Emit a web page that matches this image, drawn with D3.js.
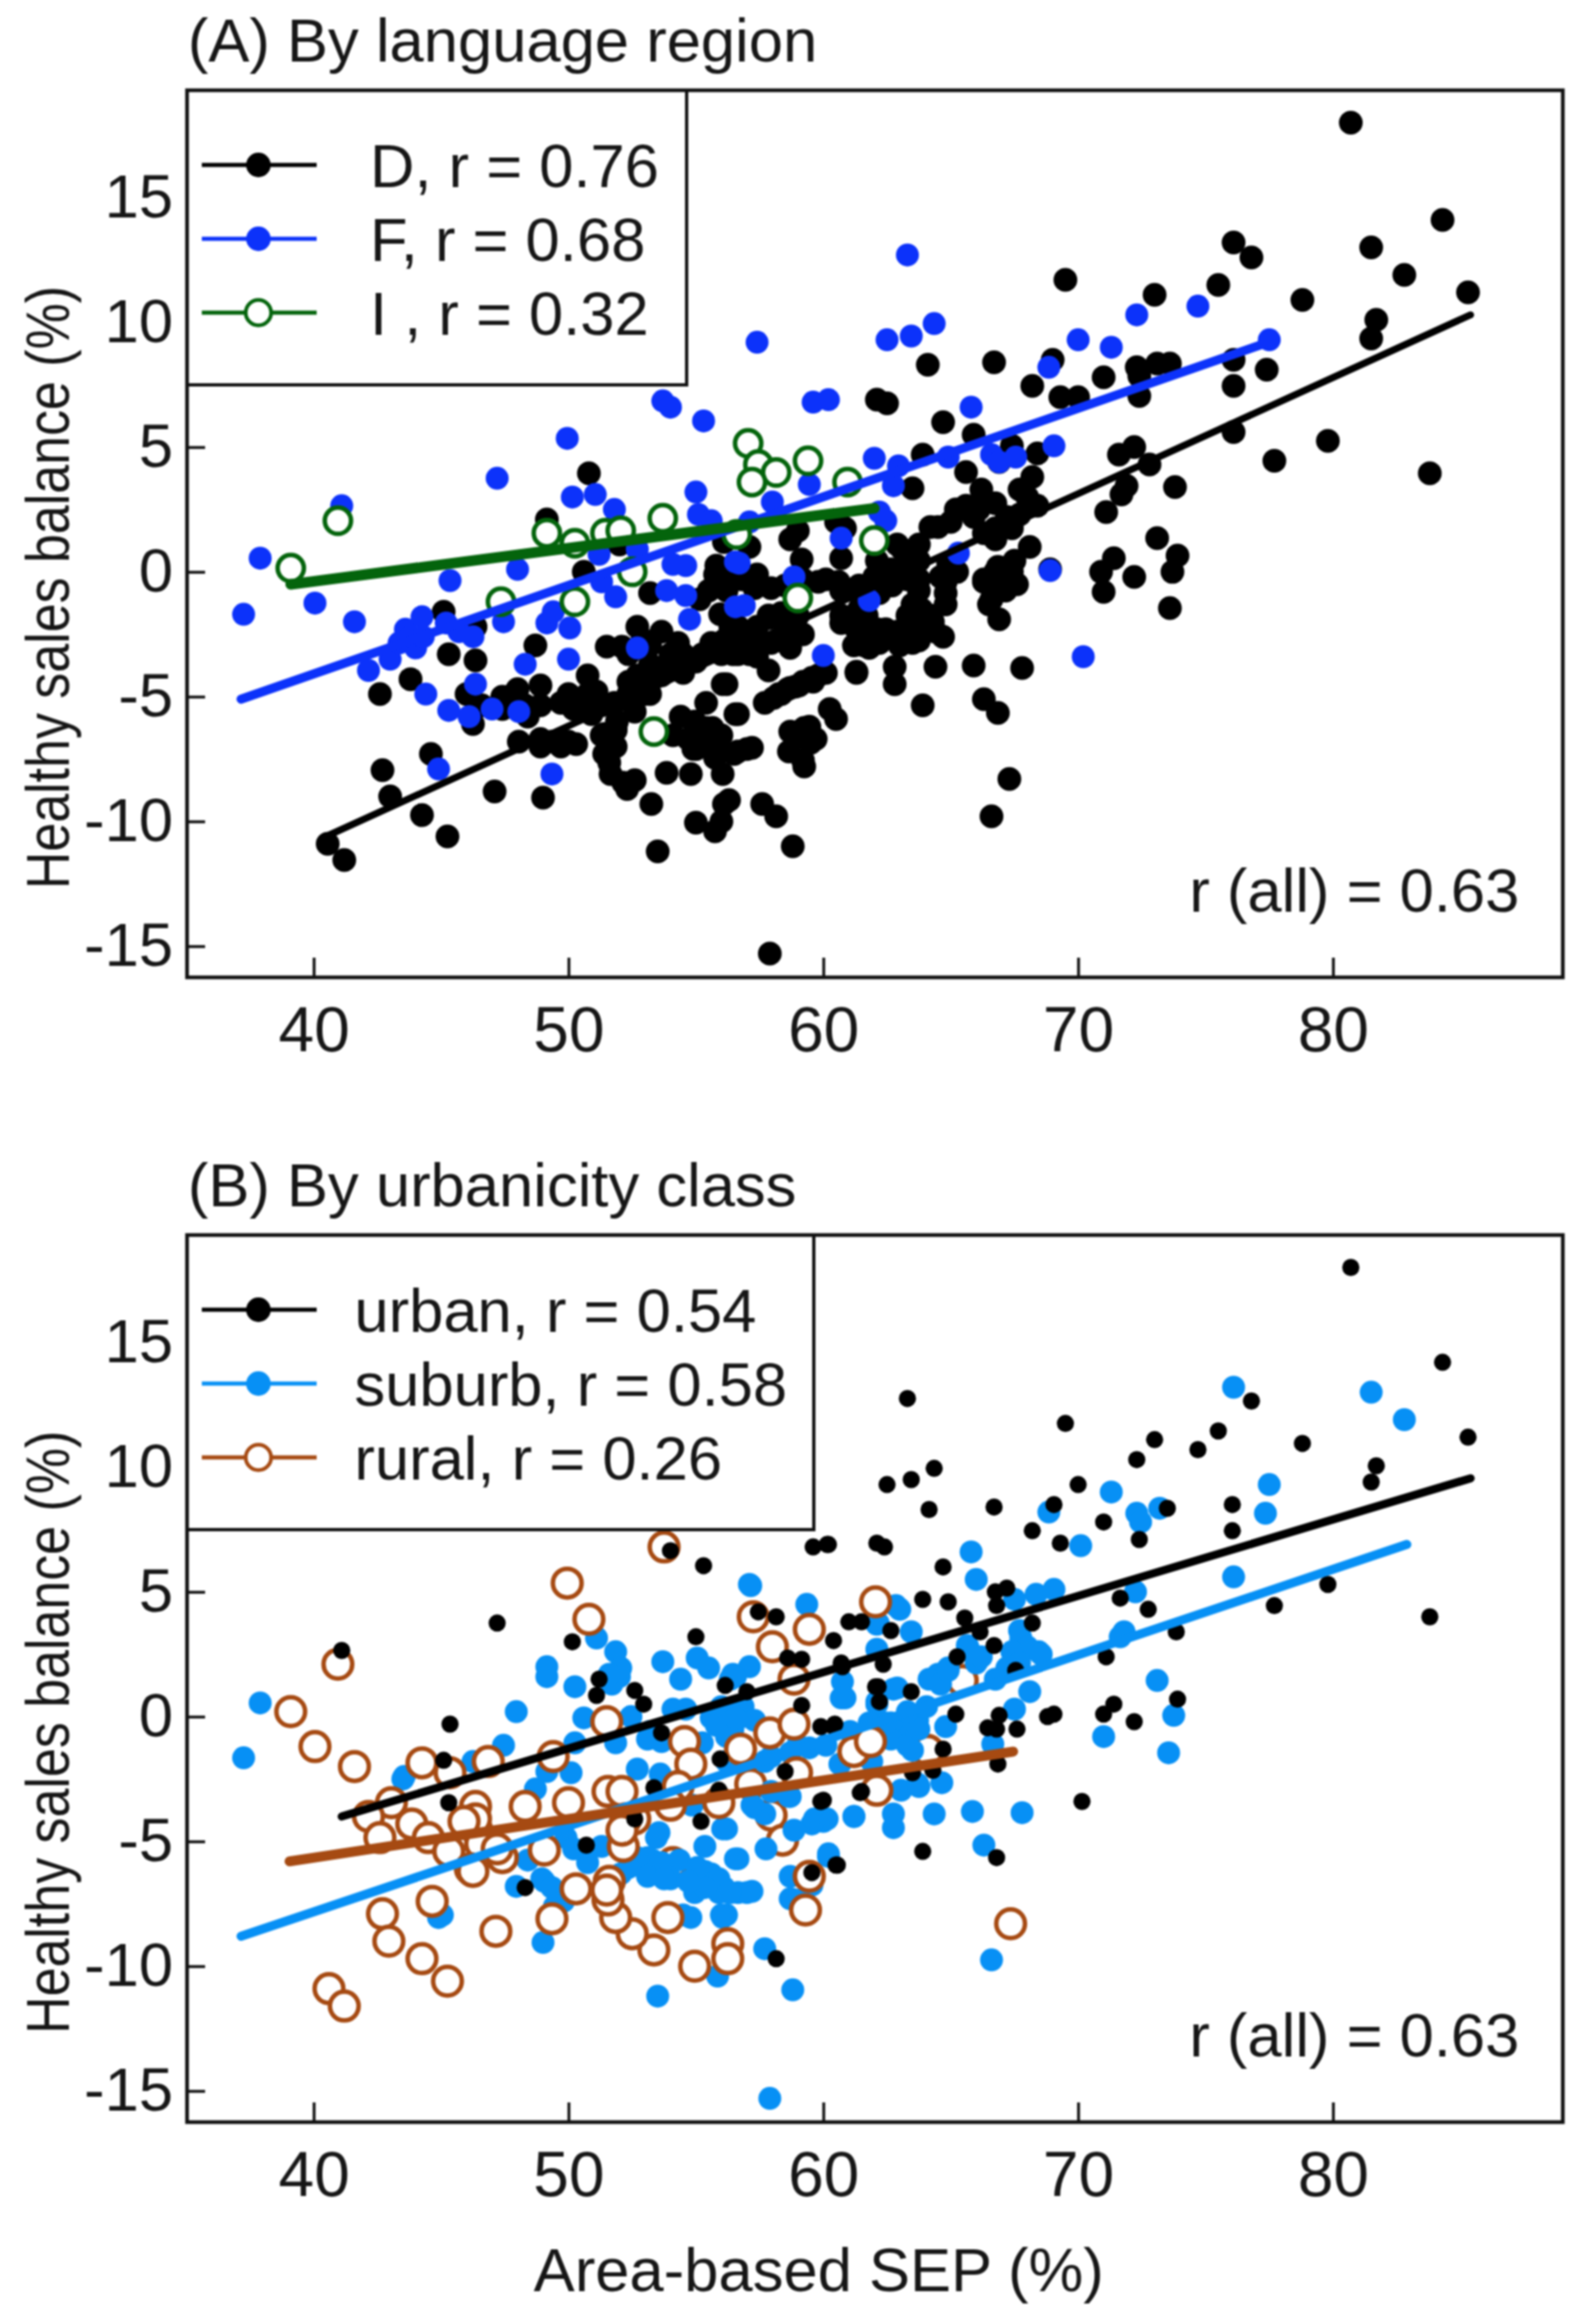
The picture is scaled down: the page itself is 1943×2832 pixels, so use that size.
<!DOCTYPE html>
<html><head><meta charset="utf-8">
<script src="https://cdn.jsdelivr.net/npm/d3@7"></script>
<style>html,body{margin:0;padding:0;background:#fff}svg{display:block;filter:blur(0.9px)}text{font-family:"Liberation Sans",Arial,sans-serif;fill:#161616}</style>
</head><body><div id="chart"></div>
<script>
const xTicks=[40,50,60,70,80];
const yTicks=[-15,-10,-5,0,5,10,15];
const langD=[[80.7,18],[84.3,14.1],[76.1,13.2],[76.8,12.6],[81.5,13],[82.8,11.9],[85.3,11.2],[78.8,10.9],[69.5,11.7],[73,11.1],[75.5,11.5],[81.7,10.1],[81.5,9.35],[64.1,8.3],[66.7,8.4],[69,8.5],[68.2,7.45],[69.3,7],[70,7],[71,7.8],[72.3,8.2],[72.4,7.85],[72.4,7.05],[73.1,8.35],[73.6,8.35],[76.1,8.5],[76.1,7.45],[77.4,8.1],[76.1,5.6],[77.7,4.45],[79.8,5.25],[83.8,3.95],[62.1,6.9],[62.5,6.75],[64.7,6],[65.9,5.5],[63.9,4.7],[71.6,4.7],[72.2,5],[72.8,4.3],[68.4,4.75],[66.9,4.4],[73.8,3.4],[71.9,3.45],[71.7,3.1],[71.1,2.4],[73.1,1.35],[73.9,.65],[73.7,0],[71.4,.55],[70.9,0],[72.2,-.2],[71,-.8],[73.6,-1.45],
[67.4,5.05],[63.5,3.35],[65.6,4],[66.2,3.3],[68.2,3.8],[67.7,3.3],[65.2,2.5],[65.9,2.2],[64.5,1.8],[65,2],[65.6,2.65],[66.75,2.75],[68.4,2.65],[67.7,2.3],[67.4,1.75],[66.75,1.3],[66.3,1.55],[68.1,1],[67.5,.45],[66.75,0],[66.3,-.4],[67.6,-.5],[67,-.5],[66.6,-1.1],[66.9,-1.9],[65.25,0],[64.8,-.4],[64.8,-1.3],[64.7,-2.6],[64.3,-2],[63.85,-1.5],[63.75,-.75],[63.5,0],[63.75,1.1],[62.9,1.1],[63.3,.45],[68.9,.1],
[66.1,2.5],[67.2,2.2],[68,3],[64.2,1.8],[66.75,1.75],[63.75,.45],[63.75,-.3],[63.1,.9],[62.65,.1],[62,-.2],[61.4,-.55],[60.7,-.75],[60.1,-.3],[59.2,-.3],[58.5,-.55],[57.3,-.65],[56.8,-.3],[63.5,-1.3],[63.3,-2.2],[64.2,-1.75],[64.4,-2.4],[63.5,-2.85],[62.45,-2.3],[61.7,-1.75],[61.3,-2.3],[61.2,-2.95],[61.8,-3.05],[60.7,-1.75],[57.85,-1.75],[57.4,-2.2],[58.35,-1.65],[59,-1.75],[59.2,-2.5],[58.6,-2.6],[57.95,-2.85],[57.4,-3.4],[56.45,-2.75],[56.65,-3.3],[56.25,-1.75],[56.65,-2.2],[66.3,-.3],[66.85,.2],[67.4,0],[67.15,-.75],[66.65,-.55],[66.5,-1.3],[64.9,.35],[64.8,-.85],[64.6,-.2],[59.2,-4.4],[58.6,-4.7],[58.05,-5.05],[59.8,-4.15],
[58.7,1.3],[59,1.65],[59.15,.5],[60.85,1.75],[60.7,.55],[62.1,.45],[60.5,2],[57.1,1],[57.4,-.1],[56.55,-.3],[57.95,-.65],[59.8,-.4],[60.6,-.4],[56.2,-.75],[61.4,-.85],[62.7,-.55],[63.3,-.3],[62.2,-.85],[60.7,-2.05],[61.4,-1.5],[62.1,-2.3],[61.6,-2.95],[62.2,-2.85],[63,-2.95],[63.75,-2.75],[63.3,-1.75],[63.75,-2.2],[62.9,-2.4],[57.85,-1.85],[58.5,-2.2],[59,-2.4],[58.7,-3.05],[58.2,-2.75],[57.4,-2.75],[56.9,-2.4],[56.35,-2.2],[56,-3.3],[57.1,-3.3],[57.85,-3.95],[56.2,-4.5],[61.3,-4],[62.8,-3.8],[62.8,-4.5],[64.4,-3.8],[65.9,-3.75],[67.8,-3.85],[63.9,-5.35],[66.3,-5.1],[66.85,-5.65],[60.1,-4.05],[59.55,-4.25],[58.9,-4.6],[58.25,-4.9],[57.7,-5.25],[56.65,-5.7],[60.25,-5.5],[60.5,-5.9],[59.45,-6.2],[59.7,-6.7],[58.7,-6.4],[58.65,-7.2],[57.2,-7.05],[56.65,-7.2],[59.2,-7.55],[67.3,-8.3],[66.6,-9.8],
[50.8,3.95],[49.15,2.1],[50.6,0],[52,1.1],[45.1,-1.6],[46.35,-2.2],[45.3,-3.3],[46.35,-3.55],[48.7,-2.95],[43.8,-4.3],[42.6,-4.9],[46,-4.9],[46.6,-5.35],[47.4,-5.5],[48,-4.7],[48.9,-4.55],[48.9,-5.35],[48.4,-5.8],[46.25,-6.1],[44.6,-7.3],[50.75,-4.15],[50,-4.9],[51.1,-4.8],[50.9,-5.7],[53.2,-.85],[52.7,-2.2],[53.65,-2.4],[51.5,-3],[52.1,-3],[54.3,-2.85],[53.2,-2.95],[53.2,-3.7],[52.35,-4.4],[53,-4.4],[53.65,-4.15],[54.5,-4.05],[55,-3.6],[55.6,-2.85],[56.1,-2.75],[56.05,-4.5],[55.4,-5.25],[56.55,-5.7],[54.4,-5.8],[55.4,-6.25],[54.1,-6.55],[54.9,-7.1],[55.9,-7.1],[51.85,-6.35],[51.5,-7.2],[51.9,-6],[55.75,-.1],[55.5,-.75],[56.2,-.55],[55.15,-1.1],[55.95,-1.7],[56.1,1.2],[48.05,-6.8],[48.9,-6.7],[49.7,-7],[50.3,-6.9],
[52.35,-3.3],[52.9,-2.7],[54,-3.3],[54.5,-3.3],[54,-3.85],[52.7,-4.15],[53.2,-4.9],[52.35,-4.9],[51.8,-5.25],[51.3,-5.35],[50.75,-4.9],[50.2,-5.5],[49.7,-5.25],[55.25,-3.3],[55.8,-3.05],[56.45,-3.3],[54.95,-6],[55.6,-6.55],[51.85,-7],[51.3,-6.55],[54.7,-6.7],[55.4,-6.9],[56,-6.55],[56.45,-2.75],[55.8,.25],[56.1,-.1],[56.55,-.3],[48.3,-5.35],[47.85,-4.9],[47.4,-5],[49.35,-6.8],[48.9,-7],[50,-6.8],
[42.7,-7.95],[43,-9],[44.25,-9.75],[45.25,-10.6],[47.1,-8.8],[49,-9.05],[40.55,-10.9],[41.2,-11.55],[53.5,-11.2],[57.9,-15.3],[55,-10.05],[55.75,-10.4],[56.3,-9.15],[57.6,-9.3],[58.15,-9.8],[58.8,-11],[53.25,-9.3],[52.3,-8.7],[51.65,-8.1],[51.4,-7.3],[53.85,-8.05],[54.8,-8.1],[56.05,-8.1],[55,-7.1],[57,-7.1],[56.5,-7.3],[55.35,-6.5],[58.7,-4.65],[59.6,-4.4],[61.3,-4.05],[59.25,-7.8],[59.5,-6.85],
[52.6,-8.35],[52.15,-8.45],[56.1,-9.3],[56,-10],[51.6,-7.65],[51.4,-6.5],[51.85,-6.3],[52.6,-5.6],[53,-4.9],[55.1,-6.5],[55.65,-6.25],[55.75,-7.45],[59.05,-6.6],[59.25,-6.25],[59.05,-4.55],[58.35,-4.9]];
const langF=[[63.3,12.7],[62.5,9.3],[63.45,9.45],[64.35,9.95],[70,9.3],[71.3,9],[72.3,10.3],[74.7,10.65],[77.5,9.3],[68.85,8.2],[65.8,6.6],[69.05,5.05],[59.6,6.8],[60.2,6.9],[62,4.55],[62.95,4.25],[64.9,4.6],[66.6,4.7],[66.9,4.4],[67.55,4.6],[68.9,.05],[70.2,-3.4],[62.75,3.45],[62.2,2.4],[62.45,2.05],[60.7,1.35],[61.8,-1.15],[65.3,.75],[60,-3.35],[59.45,3.5],[58,2.8],[57.1,2],[56.7,.35],[58.85,-.2],[56.9,-1.35],
[57.4,9.2],[53.7,6.85],[54,6.6],[55.3,6.05],[49.95,5.35],[47.2,3.75],[50.15,3],[51.05,3.1],[51.8,2.5],[41.1,2.65],[37.9,.55],[37.25,-1.7],[40.05,-1.25],[41.6,-2],[45.35,-.35],[48,.1],[55,3.2],[55.1,2.3],[55.6,2.05],[51.2,.7],[52.7,.9],[51.85,-1],[51.3,-.4],[54.1,.3],[54.6,.25],[53.85,-.75],[54.6,-.95],[54.75,-1.9],[52.7,-3.05],[50,-3.5],[48.3,-3.7],[49.15,-2.05],[49.4,-1.6],[50.05,-2.25],[42.15,-3.95],[43,-3.5],[43.6,-2.3],[44.25,-1.8],[43.35,-2.85],[44,-3.05],[43.8,-2.6],[44.3,-2.6],[45.2,-2.05],[45.7,-2.4],[46.25,-2.6],[47.45,-2],[46.35,-4.5],[44.4,-4.9],[45.3,-5.55],[46.1,-5.8],[47,-5.5],[48.05,-5.6],[56.55,.4],[56.55,-1.4],[49.35,-8.1],[44.9,-7.9]];
const langI=[[39.1,.15],[40.95,2.05],[47.35,-1.2],[49.15,1.55],[50.25,1.15],[50.25,-1.2],[51.45,1.55],[52.05,1.65],[52.5,0],[53.7,2.15],[56.6,1.5],[53.35,-6.4],[57.05,5.15],[57.45,4.3],[58.15,3.98],[57.2,3.6],[59.4,4.45],[60.95,3.6],[62,1.25],[59,-1.05]];
const urbUrban=[[80.7,18],[84.3,14.2],[76.8,12.65],[85.3,11.2],[78.8,10.95],[69.5,11.75],[73,11.1],[75.5,11.45],[74.7,10.7],[72.3,10.3],[70,9.3],[81.7,10.05],[81.5,9.4],[63.3,12.75],[62.5,9.3],[63.45,9.5],[64.35,9.95],[64.15,8.3],[66.7,8.4],[69.05,8.5],[68.2,7.45],[69.3,6.95],[71,7.8],[73.5,8.35],[72.4,7.1],[76.05,8.5],[76.05,7.45],[77.7,4.45],[79.8,5.3],[83.8,4],[62.1,6.95],[62.4,6.8],[60.15,6.9],[64.7,6],[63.9,4.7],[64.9,4.6],[66.75,5],[67.2,5.15],[66.8,4.45],[65.55,3.95],[66.15,3.4],[68.2,3.75],[62.65,3.45],[61,3.8],[61.5,3.8],[60.4,3.05],[60.7,2.15],[62.35,2.1],[66.7,2.85],[65.25,2.4],[71.65,4.75],[72.75,4.3],[73.85,3.4],[71.1,2.4],[73.9,.7],[71.4,.5],[71,.1],[72.2,-.2],[68.8,0],[69.05,.1],[70.15,-3.4],[63.9,-5.4],[66.8,-5.65],[60.5,-5.95],[65.2,.1],[66.45,-.45],[66.9,.05],[66.8,-.5],[67.6,-.5],[66.85,-1.9],[64.7,-1.3],[64.3,-2.15],[63.45,1],[62.15,1.2],[60.4,-.4],[60,-3.35],[61.45,-3.05],[63.5,-2.25],[67.55,1.85],
[41.1,2.65],[47.2,3.75],[50.15,3],[55,3.2],[54,6.65],[55.3,6.05],[59.6,6.8],[60.2,6.9],[57.45,4.2],[58.15,4],[58.6,2.35],[59.15,2.3],[60.75,2],[51.2,1.5],[51.1,.85],[52.6,1.05],[52.95,.5],[56.15,1.25],[57,1],[62.05,1.2],[62.2,.6],[59.15,.45],[59.9,-.4],[60.45,-.3],[45.35,-.3],[53.65,-.65],[45.1,-1.75],[55.95,-1.7],[45.3,-3.45],[53.35,-2.85],[58.5,-2.2],[55.9,-2.95],[59.9,-3.4],[61.5,-3],[52.6,-4.1],[55.2,-4.2],[50.7,-5.15],[59.55,-6.25],[60.55,-5.95],[48.3,-6.85],[58.15,-9.7]];
const urbSuburb=[[76.1,13.2],[81.5,13],[82.8,11.9],[77.5,9.3],[77.35,8.15],[71.3,9],[72.3,8.15],[72.45,7.8],[73.2,8.35],[68.85,8.2],[70.1,6.85],[65.8,6.6],[66,5.5],[76.1,5.6],[63,4.3],[62.15,3.75],[63.45,3.4],[68.35,4.9],[69.05,5.1],[67.5,4.7],[72.25,5],[71.8,3.4],[71.65,3.2],[67.7,2.85],[68.45,2.6],[65.65,2.85],[66.05,2.25],[64.5,1.7],[64.9,1.95],[68.1,1],[67.5,.3],[73.1,1.45],[73.75,.05],[71,-.8],[73.55,-1.45],[64.8,-.4],[63.7,-.15],[60.7,.75],[62.75,1.1],[62.1,.5],[66.65,-1.1],[63.05,-2.95],[63.7,-2.7],[64.65,-2.65],[61.2,-4],[62.75,-3.9],[62.75,-4.45],[64.35,-3.9],[65.85,-3.8],[67.8,-3.85],[66.3,-5.15],[60.2,-5.6],[60,-4.2],[66.6,-9.75],
[57.1,5.3],[59.35,4.5],[62.1,2.7],[62.1,3.7],[67.75,3.15],[66,2.15],[65.7,2.7],[60.75,1.4],[60.85,.75],[62.1,.6],[62.9,1.15],[57.1,2],[56.55,1.6],[56.85,0],[63,-.7],[63.5,-.15],[62.65,-.25],[63.5,-1.35],[59.45,-1.25],[58.7,-1.45],[57.95,-1.6],[60.65,-1.9],[61.9,-1.8],[63.75,-2.8],[58.7,-3.2],[57.3,-3.65],[57.7,-3.9],[56.2,-4.5],[61.2,-4],[60.15,-4.1],[59.55,-4.3],[58.85,-4.55],[57.75,-5.3],[56.65,-5.7],[60.2,-5.5],[58.7,-6.4],[59.55,-6.75],[58.7,-7.3],[57.2,-7],[56.65,-7.05],[56.1,-6.85],[56.2,-7.95],
[62.65,-.9],[63.3,-1.15],[63.75,-.5],[62.45,-.25],[63.3,.2],[64.05,.4],[64.15,1.5],[64.6,1.3],[64.9,1.85],[66.2,2.4],[67.2,1.95],[67.7,3.45],[68,2.8],[68.55,2.5],[67.4,2.6],[67.7,2.15],[66.75,1.5],[56.35,.05],[56.85,.4],[57.3,-.15],[56.45,-.5],[56.2,-.8],[57.7,-1.8],[56.85,-1.55],[56.2,-1.8],[59,-1.15],[60.1,-1.15],[61.05,-.6],[61.8,-.25],[57.2,-3.55],[57.95,-3],[58.65,-3.2],[59.65,-4.1],[57,-7.05],[56.35,-7.05],
[51.1,3.15],[51.85,2.6],[49.15,2],[49.15,1.6],[50.25,1.2],[52,1.6],[51.7,1.3],[53.7,2.2],[55.05,2.35],[55.5,1.95],[54.4,1.5],[47.95,.2],[50.6,-.05],[52.45,0],[47.45,-1.15],[50.25,-1.05],[51.85,-1.05],[53.1,-.9],[54.1,.3],[54.6,.3],[56,-.05],[55.6,-.05],[56.35,1.5],[55.25,-1.05],[49.15,-2.2],[50.1,-2.25],[48.7,-2.9],[43.55,-2.4],[52.7,-2.1],[53.6,-2.3],[46.25,-1.8],[56.05,-4.5],[55.35,-5.2],[56.55,-5.7],[54.35,-5.75],[54.85,-3.55],[55.6,-6.3],[54.95,-7.05],[55.9,-7.05],[54.5,-7.95],[56,-7.95],[53.55,-4.65],[53.3,-5.75],[52.7,-5.95],[52.05,-6.3],[54,-6.5],[49.9,-4.85],[50.75,-5.85],[51.3,-5.2],[48.4,-5.75],[47.95,-6.8],[49.05,-6.6],[49.55,-7.05],[51.8,-8],[45.05,-7.95],
[53.45,-4.85],[53.1,-5.65],[53.65,-5.85],[52.7,-5.65],[53.1,-6.4],[53.75,-6.5],[52.35,-6.05],[55.35,-6.2],[55.9,-6.5],[55.35,-6.85],[55.05,-6.05],[54.7,-6.6],[56.3,-7.05],[50.2,-5.3],[48.95,-6.5],[49.35,-6.85],[49.8,-7.4],[55.8,-.35],[56,.4],[56.45,1.7],[56.55,-.05],[52.05,1.95],[51.6,1.7],[53.2,-.6],[53.65,-1],
[37.9,.55],[37.25,-1.65],[43.5,-2.5],[53.5,-11.2],[57.9,-15.3],[58.8,-10.95],[57.7,-9.3],[55.85,-10.4],[49,-9.05],[44.9,-8.05],[51.85,-8.15],[54.8,-8.05],[56.05,-8.05],[49.45,-7.6],[57.15,5.25],[62.85,4.45],[58.9,-7.35]];
const urbRuralUnder=[[57.95,-3.95],[58.4,-4.95],[54.1,-5.85],[65.45,1.45],[64.1,-1.35],[57.15,-2.7]];
const urbRural=[[53.75,6.8],[49.95,5.35],[50.8,3.9],[40.95,2.1],[39.1,.2],[40.05,-1.2],[41.6,-2],[44.25,-1.85],[45.35,-2.25],[46.85,-1.8],[49.4,-1.6],[51.5,-.2],[54.55,-1],[54.8,-1.9],[56.75,-1.3],[57.9,-.65],[58.85,-.3],[57.25,4],[58,2.8],[59.45,3.5],[62.05,4.6],[58.85,1.5],[58.95,-2.25],[61.2,-1.4],[61.85,-1],[62.1,-2.95],[59.45,-6.4],[59.3,-7.75],[56.25,-9.1],[56.25,-9.7],[54.95,-10],[53.9,-8.05],[53.35,-9.35],[52.5,-8.7],[51.85,-8.05],[51.55,-7.35],[51.6,-6.6],[50.3,-6.9],[49.35,-8.1],[47.15,-8.6],[44.65,-7.4],[42.7,-7.9],[42.95,-9],[44.25,-9.7],[45.25,-10.6],[40.6,-10.9],[41.2,-11.6],[67.35,-8.3],[43.05,-3.45],[42.15,-4],[42.6,-4.85],[43.85,-4.3],[44.5,-4.85],[45.3,-5.4],[46.35,-3.6],[46.4,-4.55],[46.55,-5.1],[48.3,-3.6],[50,-3.45],[51.55,-3],[52.1,-3],[52.6,-4.1],[52.15,-5.2],[49.05,-5.35],[47.4,-5.65],[46.15,-6.1],[46.25,-6.2],[51.5,-6.95],[54.3,-2.8],[54,-3.55],[55.9,-3.45],[52.25,-4.1],[52.1,-4.55],[47.2,-5.3],[46.35,-4.1],[45.9,-4.2]];
const lineD=[[40.6,-10.55],[85.4,10.3]];
const lineF=[[37.15,-5.1],[77.6,9.25]];
const lineI=[[39.1,-.5],[62,2.55]];
const lineUrban=[[41.1,-4],[85.4,9.55]];
const lineSuburb=[[37.15,-8.8],[82.9,6.9]];
const lineRural=[[39.05,-5.8],[67.45,-1.4]];
const titleA="(A) By language region", titleB="(B) By urbanicity class";
const yTitle="Healthy sales balance (%)", xTitle="Area-based SEP (%)", rAll="r (all) = 0.63";
const legendA=["D, r = 0.76","F, r = 0.68","I , r = 0.32"];
const legendB=["urban, r = 0.54","suburb, r = 0.58","rural, r = 0.26"];

const c={black:"#000",blue:"#0c32fa",green:"#04640c",sky:"#0790f5",brown:"#a64a12"};
const svg=d3.select("#chart").append("svg").attr("width",1943).attr("height",2832);
svg.append("rect").attr("width",1943).attr("height",2832).attr("fill","#fff");
const L=228,R=1905,T=110,B=1191;
const x=d3.scaleLinear().domain([35.03,89.02]).range([L,R]);
const y=d3.scaleLinear().domain([-16.25,19.3]).range([B,T]);
function panel(dy,o){
  const g=svg.append("g").attr("transform",`translate(0,${dy})`);
  const cl="clip"+dy;
  g.append("clipPath").attr("id",cl).append("rect").attr("x",L).attr("y",T).attr("width",R-L).attr("height",B-T);
  const plot=g.append("g").attr("clip-path",`url(#${cl})`);
  o.series.forEach(s=>{
    plot.append("g").selectAll("circle").data(s.pts).join("circle")
      .attr("cx",d=>x(d[0])).attr("cy",d=>y(d[1])).attr("r",s.r)
      .attr("fill",s.ring?"#fff":s.col).attr("stroke",s.ring?s.col:"none").attr("stroke-width",s.ring?s.sw:0);
  });
  const ln=d3.line().x(d=>x(d[0])).y(d=>y(d[1]));
  o.series.filter(s=>s.line).forEach(s=>{
    plot.append("path").attr("d",ln(s.line)).attr("fill","none").attr("stroke",s.col).attr("stroke-width",s.lw).attr("stroke-linecap","round");
  });
  const ax=g.append("g").attr("transform",`translate(0,${B})`).call(d3.axisBottom(x).tickValues(xTicks).tickSize(-24).tickPadding(35).tickFormat(d3.format("d")));
  const ay=g.append("g").attr("transform",`translate(${L},0)`).call(d3.axisLeft(y).tickValues(yTicks).tickSize(-22).tickPadding(17).tickFormat(d=>String(d)));
  [ax,ay].forEach((a,i)=>{a.select(".domain").remove();a.selectAll("line").attr("stroke","#111").attr("stroke-width",3.5);a.selectAll("text").attr("font-size",i?75:78).attr("fill","#161616");});
  g.append("rect").attr("x",L).attr("y",T).attr("width",o.legW).attr("height",469-T).attr("fill","#fff").attr("stroke","#111").attr("stroke-width",4);
  o.legendOrder.forEach((k,i)=>{
    const s=o.series[k], yy=201+i*90;
    g.append("line").attr("x1",246).attr("x2",386).attr("y1",yy).attr("y2",yy).attr("stroke",s.col).attr("stroke-width",5);
    g.append("circle").attr("cx",315).attr("cy",yy).attr("r",s.ring?15.5:15).attr("fill",s.ring?"#fff":s.col).attr("stroke",s.ring?s.col:"none").attr("stroke-width",s.ring?4.5:0);
    g.append("text").attr("x",o.legX).attr("y",yy+27).attr("font-size",75).text(o.legend[i]);
  });
  g.append("rect").attr("x",L).attr("y",T).attr("width",R-L).attr("height",B-T).attr("fill","none").attr("stroke","#111").attr("stroke-width",4.5);
  g.append("text").attr("x",229).attr("y",75).attr("font-size",75).text(o.title);
  g.append("text").attr("x",1852).attr("y",1111).attr("font-size",75).attr("text-anchor","end").text(rAll);
  g.append("text").attr("transform",`translate(84,716) rotate(-90)`).attr("font-size",75).attr("text-anchor","middle")
    .attr("textLength",735).attr("lengthAdjust","spacingAndGlyphs").text(yTitle);
}
panel(0,{title:titleA,legend:legendA,legendOrder:[0,1,2],legW:609,legX:451,series:[
  {pts:langD,col:c.black,r:14.5,line:lineD,lw:8.5},
  {pts:langF,col:c.blue,r:14,line:lineF,lw:11},
  {pts:langI,col:c.green,r:16,ring:true,sw:5.5,line:lineI,lw:13}]});
panel(1395,{title:titleB,legend:legendB,legendOrder:[3,1,2],legW:764,legX:432,series:[
  {pts:urbRuralUnder,col:c.brown,r:17.5,ring:true,sw:5.5},
  {pts:urbSuburb,col:c.sky,r:14,line:lineSuburb,lw:11},
  {pts:urbRural,col:c.brown,r:17.5,ring:true,sw:5.5,line:lineRural,lw:12},
  {pts:urbUrban,col:c.black,r:10.5,line:lineUrban,lw:10}]});
svg.append("text").attr("x",998).attr("y",2792).attr("font-size",75).attr("text-anchor","middle").text(xTitle);
</script></body></html>
